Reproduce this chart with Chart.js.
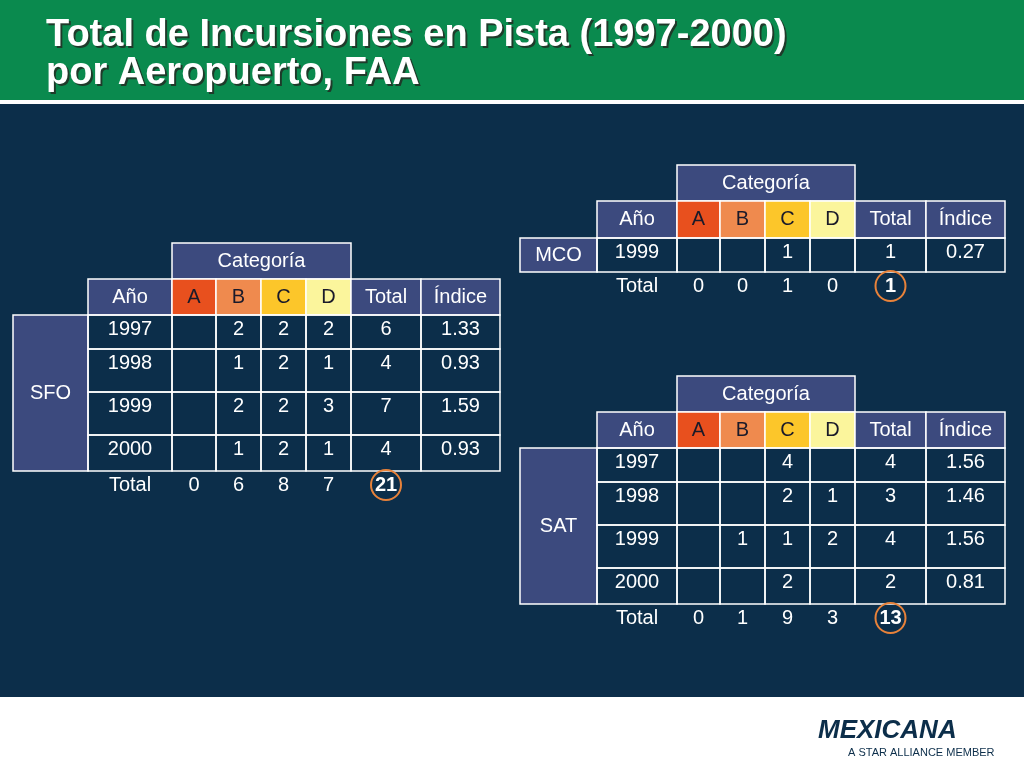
<!DOCTYPE html>
<html><head><meta charset="utf-8">
<script src="https://cdn.jsdelivr.net/npm/chart.js@4.4.1/dist/chart.umd.min.js"></script>
<style>html,body{margin:0;padding:0;background:#0c2e4a}canvas{display:block}</style>
</head><body>
<div style="width:1024px;height:768px"><canvas id="myChart"></canvas></div>
<script>
const categorias = ['A', 'B', 'C', 'D']
const encabezados = ['Año', 'A', 'B', 'C', 'D', 'Total', 'Índice']

const sfoAnios = ['1997', '1998', '1999', '2000']
const sfoValores = [['', '2', '2', '2', '6', '1.33'], ['', '1', '2', '1', '4', '0.93'], ['', '2', '2', '3', '7', '1.59'], ['', '1', '2', '1', '4', '0.93']]
const sfoTotales = ['0', '6', '8', '7', '21']

const mcoAnios = ['1999']
const mcoValores = [['', '', '1', '', '1', '0.27']]
const mcoTotales = ['0', '0', '1', '0', '1']

const satAnios = ['1997', '1998', '1999', '2000']
const satValores = [['', '', '4', '', '4', '1.56'], ['', '', '2', '1', '3', '1.46'], ['', '1', '1', '2', '4', '1.56'], ['', '', '2', '', '2', '0.81']]
const satTotales = ['0', '1', '9', '3', '13']

const colorCat = ['#e8501e', '#ef8a4e', '#fcc62a', '#fbf59c']
const colorCabecera = '#3c4a7e'
const fuente = '20px "Liberation Sans Narrow", "Liberation Sans", Arial, sans-serif'

const tablas = [
    { nombre: 'SFO', anios: sfoAnios, valores: sfoValores, totales: sfoTotales,
      xs: [13, 88, 172, 216, 261, 306, 351, 421, 500], ys: [243, 279, 315, 349, 392, 435, 471, 507] },
    { nombre: 'MCO', anios: mcoAnios, valores: mcoValores, totales: mcoTotales,
      xs: [520, 597, 677, 720, 765, 810, 855, 926, 1005], ys: [165, 201, 238, 272, 310] },
    { nombre: 'SAT', anios: satAnios, valores: satValores, totales: satTotales,
      xs: [520, 597, 677, 720, 765, 810, 855, 926, 1005], ys: [376, 412, 448, 482, 525, 568, 604, 640] }
]

function celda(ctx, x0, y0, x1, y1, fondo, texto, color, alinear) {
    if (fondo) { ctx.fillStyle = fondo; ctx.fillRect(x0, y0, x1 - x0, y1 - y0) }
    ctx.strokeStyle = '#ffffff'; ctx.lineWidth = 1.5
    ctx.strokeRect(x0, y0, x1 - x0, y1 - y0)
    if (texto) {
        ctx.fillStyle = color || '#ffffff'
        ctx.textAlign = 'center'
        ctx.textBaseline = alinear || 'middle'
        ctx.fillText(texto, (x0 + x1) / 2, alinear === 'top' ? y0 + 4 : (y0 + y1) / 2)
    }
}

const tablasPlugin = {
    id: 'tablas',
    afterDraw(chart) {
        const ctx = chart.ctx
        const sx = chart.scales.x, sy = chart.scales.y
        ctx.save()
        ctx.font = fuente
        tablas.forEach(t => {
            const X = t.xs.map(v => sx.getPixelForValue(v))
            const Y = t.ys.map(v => sy.getPixelForValue(v))
            const n = t.anios.length
            celda(ctx, X[2], Y[0], X[6], Y[1], colorCabecera, 'Categoría')
            encabezados.forEach((h, i) => {
                const c = i + 1
                const fondo = (i >= 1 && i <= 4) ? colorCat[i - 1] : colorCabecera
                const col = (i >= 1 && i <= 4) ? '#1a1a2a' : '#ffffff'
                celda(ctx, X[c], Y[1], X[c + 1], Y[2], fondo, h, col)
            })
            celda(ctx, X[0], Y[2], X[1], Y[2 + n], colorCabecera, t.nombre)
            t.anios.forEach((a, r) => {
                celda(ctx, X[1], Y[2 + r], X[2], Y[3 + r], null, a, null, 'top')
                t.valores[r].forEach((v, c) => {
                    celda(ctx, X[2 + c], Y[2 + r], X[3 + c], Y[3 + r], null, v, null, 'top')
                })
            })
            const yt = Y[2 + n] + 4
            ctx.fillStyle = '#ffffff'; ctx.textBaseline = 'top'; ctx.textAlign = 'center'
            ctx.fillText('Total', (X[1] + X[2]) / 2, yt)
            t.totales.forEach((v, c) => {
                const cx = (X[2 + c] + X[3 + c]) / 2
                if (c === 4) {
                    ctx.font = 'bold ' + fuente
                    ctx.beginPath()
                    ctx.arc(cx, yt + 10, 15, 0, Math.PI * 2)
                    ctx.strokeStyle = '#e8823a'; ctx.lineWidth = 2; ctx.stroke()
                }
                ctx.fillStyle = '#ffffff'
                ctx.fillText(v, cx, yt)
            })
            ctx.font = fuente
        })
        // encabezado y pie
        ctx.fillStyle = '#0a8a4e'; ctx.fillRect(0, 0, 1024, 100)
        ctx.fillStyle = '#ffffff'; ctx.fillRect(0, 100, 1024, 4)
        ctx.fillRect(0, 697, 1024, 71)
        ctx.font = 'bold 38px "Liberation Sans", Arial, sans-serif'
        ctx.textAlign = 'left'; ctx.textBaseline = 'alphabetic'
        ctx.fillStyle = '#1f3a2a'
        ctx.fillText('Total de Incursiones en Pista (1997-2000)', 48, 48)
        ctx.fillText('por Aeropuerto, FAA', 48, 86)
        ctx.fillStyle = '#ffffff'
        ctx.fillText('Total de Incursiones en Pista (1997-2000)', 46, 46)
        ctx.fillText('por Aeropuerto, FAA', 46, 84)
        ctx.fillStyle = '#0c2e4a'
        ctx.font = 'italic bold 26px "Liberation Sans", Arial, sans-serif'
        ctx.fillText('MEXICANA', 818, 738)
        ctx.font = '11px "Liberation Sans", Arial, sans-serif'
        ctx.fillText('A STAR ALLIANCE MEMBER', 848, 756)
        ctx.restore()
    }
}

new Chart(document.getElementById('myChart').getContext('2d'), {
    type: 'scatter',
    data: { datasets: [{ data: [] }] },
    options: {
        responsive: true, maintainAspectRatio: false, animation: false,
        layout: { padding: 0 },
        plugins: { legend: { display: false }, tooltip: { enabled: false } },
        scales: {
            x: { type: 'linear', min: 0, max: 1024, display: false },
            y: { type: 'linear', min: 0, max: 768, reverse: true, display: false }
        }
    },
    plugins: [tablasPlugin]
})
</script>
</body></html>
